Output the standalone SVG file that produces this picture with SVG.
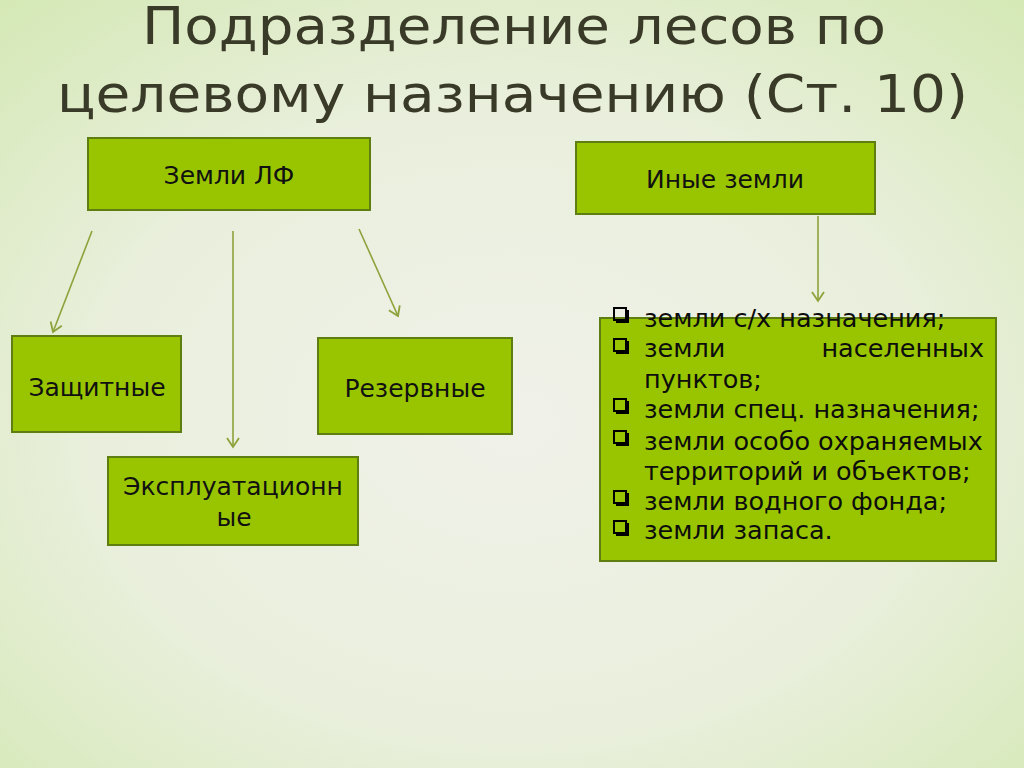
<svg xmlns="http://www.w3.org/2000/svg" width="1024" height="768" viewBox="0 0 1024 768">
<defs>
<radialGradient id="bg" cx="0.5" cy="0.55" r="0.75">
<stop offset="0" stop-color="#f0f1e9"/>
<stop offset="0.55" stop-color="#e9efdc"/>
<stop offset="1" stop-color="#d4e8b4"/>
</radialGradient>
<marker id="arr" viewBox="0 0 14 14" refX="12" refY="7" markerWidth="14" markerHeight="14" markerUnits="userSpaceOnUse" orient="auto">
<path d="M3,1 L12,7 L3,13" fill="none" stroke="#8da23a" stroke-width="1.8"/>
</marker>
<style>
.box{fill:#99c500;stroke:#5e7e12;stroke-width:2}
.t{font-family:"DejaVu Sans",sans-serif;font-size:25px;fill:#111}
.li{font-family:"DejaVu Sans",sans-serif;font-size:25.5px;fill:#0d0d0d}
.title{font-family:"DejaVu Sans Condensed","DejaVu Sans",sans-serif;font-size:52px;fill:#3a3a28}
.c{stroke:#8da23a;stroke-width:1.6;fill:none;marker-end:url(#arr)}
.bul{fill:none;stroke:#000;stroke-width:2}
.sh{fill:none;stroke:#000;stroke-width:3}
</style>
</defs>
<rect width="1024" height="768" fill="url(#bg)"/>
<g id="title">
<text class="title" x="142" y="44" textLength="744" lengthAdjust="spacingAndGlyphs">Подразделение лесов по</text>
<text class="title" x="57" y="112" textLength="911" lengthAdjust="spacingAndGlyphs">целевому назначению (Ст. 10)</text>
</g>
<g id="connectors">
<line class="c" x1="92" y1="231" x2="53" y2="332"/>
<line class="c" x1="233" y1="231" x2="233" y2="447"/>
<line class="c" x1="359" y1="229" x2="398" y2="316"/>
<line class="c" x1="818" y1="216" x2="818" y2="301"/>
</g>
<g id="n-lf">
<rect class="box" x="88" y="138" width="282" height="72"/>
<text class="t" x="229" y="184" text-anchor="middle">Земли ЛФ</text>
</g>
<g id="n-zasch">
<rect class="box" x="12" y="336" width="169" height="96"/>
<text class="t" x="97" y="396" text-anchor="middle">Защитные</text>
</g>
<g id="n-rez">
<rect class="box" x="318" y="338" width="194" height="96"/>
<text class="t" x="415" y="397" text-anchor="middle">Резервные</text>
</g>
<g id="n-expl">
<rect class="box" x="108" y="457" width="250" height="88"/>
<text class="t" x="233" y="495" text-anchor="middle">Эксплуатационн</text>
<text class="t" x="234" y="526" text-anchor="middle">ые</text>
</g>
<g id="n-inye">
<rect class="box" x="576" y="142" width="299" height="72"/>
<text class="t" x="725" y="188" text-anchor="middle">Иные земли</text>
</g>
<g id="n-list">
<rect class="box" x="600" y="318" width="396" height="243"/>
<g>
<rect class="bul" x="614" y="308" width="12" height="12"/><path class="sh" d="M616,321.5 H627.5 V310"/>
<rect class="bul" x="614" y="339" width="12" height="12"/><path class="sh" d="M616,352.5 H627.5 V341"/>
<rect class="bul" x="614" y="399" width="12" height="12"/><path class="sh" d="M616,412.5 H627.5 V401"/>
<rect class="bul" x="614" y="431" width="12" height="12"/><path class="sh" d="M616,444.5 H627.5 V433"/>
<rect class="bul" x="614" y="491" width="12" height="12"/><path class="sh" d="M616,504.5 H627.5 V493"/>
<rect class="bul" x="614" y="521" width="12" height="12"/><path class="sh" d="M616,534.5 H627.5 V523"/>
</g>
<text class="li" x="644" y="327">земли с/х назначения;</text>
<text class="li" x="644" y="357">земли</text>
<text class="li" x="984" y="357" text-anchor="end">населенных</text>
<text class="li" x="644" y="388">пунктов;</text>
<text class="li" x="644" y="418">земли спец. назначения;</text>
<text class="li" x="644" y="450">земли особо охраняемых</text>
<text class="li" x="644" y="480">территорий и объектов;</text>
<text class="li" x="644" y="510">земли водного фонда;</text>
<text class="li" x="644" y="539">земли запаса.</text>
</g>
</svg>
